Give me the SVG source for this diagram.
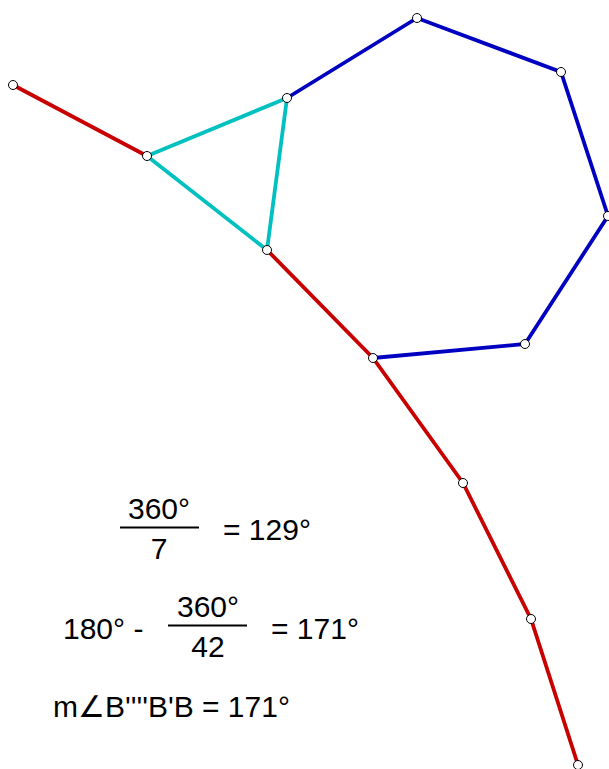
<svg xmlns="http://www.w3.org/2000/svg" width="609" height="769" viewBox="0 0 609 769">
<style>
.r{stroke:#c80000;stroke-width:3.8;fill:none;stroke-linecap:round}
.c{stroke:#00c0c0;stroke-width:3.8;fill:none;stroke-linecap:round}
.b{stroke:#0000c0;stroke-width:3.8;fill:none;stroke-linecap:round}
.p{fill:#fff;stroke:#000;stroke-width:1}
text{font-family:"Liberation Sans",Arial,sans-serif;font-size:30px;fill:#000}
.fl{stroke:#000;stroke-width:2}
</style>
<g id="connectors">
<line class="r" x1="13" y1="85" x2="147" y2="156"/>
<line class="c" x1="147" y1="156" x2="287" y2="98"/>
<line class="c" x1="147" y1="156" x2="267" y2="250"/>
<line class="c" x1="287" y1="98" x2="267" y2="250"/>
<polyline class="b" points="287,98 417,18 561,72 608,216 525,344 373,358"/>
<polyline class="r" points="267,250 373,358 463,483 531,619 578,765"/>
</g>
<g id="P1"><circle class="p" cx="13" cy="85" r="4.5"/></g>
<g id="P2"><circle class="p" cx="147" cy="156" r="4.5"/></g>
<g id="P3"><circle class="p" cx="287" cy="98" r="4.5"/></g>
<g id="P4"><circle class="p" cx="267" cy="250" r="4.5"/></g>
<g id="H1"><circle class="p" cx="417" cy="18" r="4.5"/></g>
<g id="H2"><circle class="p" cx="561" cy="72" r="4.5"/></g>
<g id="H3"><circle class="p" cx="608" cy="216" r="4.5"/></g>
<g id="H4"><circle class="p" cx="525" cy="344" r="4.5"/></g>
<g id="H5"><circle class="p" cx="373" cy="358" r="4.5"/></g>
<g id="R1"><circle class="p" cx="463" cy="483" r="4.5"/></g>
<g id="R2"><circle class="p" cx="531" cy="619" r="4.5"/></g>
<g id="R3"><circle class="p" cx="578" cy="765" r="4.5"/></g>
<g id="eq1">
<text x="159" y="519" text-anchor="middle">360°</text>
<line class="fl" x1="120" y1="527.5" x2="199" y2="527.5"/>
<text x="159" y="559" text-anchor="middle">7</text>
<text x="223" y="540">= 129°</text>
</g>
<g id="eq2">
<text x="63" y="639">180° -</text>
<text x="208" y="617" text-anchor="middle">360°</text>
<line class="fl" x1="168" y1="625.5" x2="247" y2="625.5"/>
<text x="208" y="657" text-anchor="middle">42</text>
<text x="271" y="639">= 171°</text>
</g>
<g id="eq3">
<text x="53" y="717">m∠B''''B'B = 171°</text>
</g>
</svg>
